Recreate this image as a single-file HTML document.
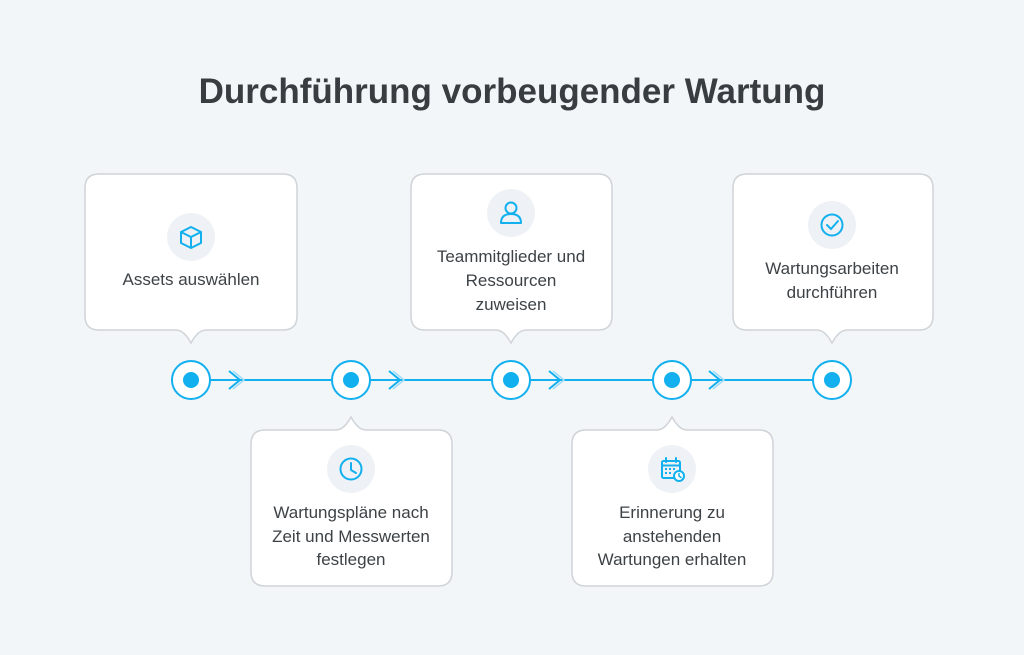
<!DOCTYPE html>
<html><head><meta charset="utf-8">
<style>
html,body{margin:0;padding:0;background:#f3f6f9;}
svg{display:block;}
text{font-family:"Liberation Sans",Arial,sans-serif;}
.lbl{font-size:17px;fill:#3d4246;text-anchor:middle;}
</style></head><body>
<svg width="1024" height="655" viewBox="0 0 1024 655" xmlns="http://www.w3.org/2000/svg">
<rect width="1024" height="655" fill="#f3f6f9"/>
<text x="512" y="103" text-anchor="middle" font-size="35" font-weight="bold" fill="#383d42">Durchführung vorbeugender Wartung</text>

<g fill="#ffffff" stroke="#cfd4d9" stroke-width="1.5">
<path d="M99,174 H283 Q297,174 297,188 V316 Q297,330 283,330 H206 Q198,330 191,343 Q184,330 176,330 H99 Q85,330 85,316 V188 Q85,174 99,174 Z"/>
<path d="M425,174 H598 Q612,174 612,188 V316 Q612,330 598,330 H526 Q518,330 511,343 Q504,330 496,330 H425 Q411,330 411,316 V188 Q411,174 425,174 Z"/>
<path d="M747,174 H919 Q933,174 933,188 V316 Q933,330 919,330 H847 Q839,330 832,343 Q825,330 817,330 H747 Q733,330 733,316 V188 Q733,174 747,174 Z"/>
<path d="M265,430 H336 Q344,430 351,417 Q358,430 366,430 H438 Q452,430 452,444 V572 Q452,586 438,586 H265 Q251,586 251,572 V444 Q251,430 265,430 Z"/>
<path d="M586,430 H657 Q665,430 672,417 Q679,430 687,430 H759 Q773,430 773,444 V572 Q773,586 759,586 H586 Q572,586 572,572 V444 Q572,430 586,430 Z"/>
</g>

<g stroke="#12b0ee" stroke-width="2" fill="none">
<line x1="191" y1="380" x2="832" y2="380"/>
<g id="ch"><polyline points="229,371 240,380 229,389"/><polyline points="233,371 244,380 233,389" stroke="#9fdcf6" stroke-width="1.5"/></g>
<use href="#ch" x="160"/><use href="#ch" x="320"/><use href="#ch" x="480"/>
</g>
<g>
<g id="nd"><circle cx="191" cy="380" r="19" fill="#fff" stroke="#12b0ee" stroke-width="2"/><circle cx="191" cy="380" r="8" fill="#12b0ee"/></g>
<use href="#nd" x="160"/><use href="#nd" x="320"/><use href="#nd" x="481"/><use href="#nd" x="641"/>
</g>

<g fill="#eef2f6">
<circle cx="191" cy="237" r="24"/>
<circle cx="511" cy="213" r="24"/>
<circle cx="832" cy="225" r="24"/>
<circle cx="351" cy="469" r="24"/>
<circle cx="672" cy="469" r="24"/>
</g>
<g stroke="#12b0ee" stroke-width="2" fill="none" stroke-linejoin="round" stroke-linecap="round">
<path d="M191,227 L201,232 V243 L191,248 L181,243 V232 Z M181,232 L191,237 L201,232 M191,237 V248"/>
<circle cx="511" cy="208" r="5.5"/>
<path d="M501,223 Q501,214 511,214 Q521,214 521,223 Z"/>
<circle cx="832" cy="225" r="10.5"/>
<polyline points="827,225 831,229 838,221"/>
<circle cx="351" cy="469" r="10.5"/>
<polyline points="351,463 351,470 356,473"/>
<rect x="662" y="461" width="18" height="17" rx="1.5"/>
<line x1="662" y1="465.5" x2="680" y2="465.5"/>
<line x1="666" y1="458" x2="666" y2="462"/><line x1="676" y1="458" x2="676" y2="462"/>
<circle cx="679" cy="476" r="5" fill="#fff"/>
<polyline points="679,473.5 679,476 681,477.5" stroke-width="1.5"/>
</g>
<g fill="#12b0ee">
<rect x="665" y="468" width="2" height="2"/><rect x="669" y="468" width="2" height="2"/><rect x="673" y="468" width="2" height="2"/>
<rect x="665" y="472" width="2" height="2"/><rect x="669" y="472" width="2" height="2"/>
</g>

<text class="lbl" x="191" y="285">Assets auswählen</text>
<text class="lbl" x="511" y="262">Teammitglieder und</text>
<text class="lbl" x="511" y="286">Ressourcen</text>
<text class="lbl" x="511" y="310">zuweisen</text>
<text class="lbl" x="832" y="274">Wartungsarbeiten</text>
<text class="lbl" x="832" y="298">durchführen</text>
<text class="lbl" x="351" y="518">Wartungspläne nach</text>
<text class="lbl" x="351" y="542">Zeit und Messwerten</text>
<text class="lbl" x="351" y="565">festlegen</text>
<text class="lbl" x="672" y="518">Erinnerung zu</text>
<text class="lbl" x="672" y="542">anstehenden</text>
<text class="lbl" x="672" y="565">Wartungen erhalten</text>
</svg>
</body></html>
